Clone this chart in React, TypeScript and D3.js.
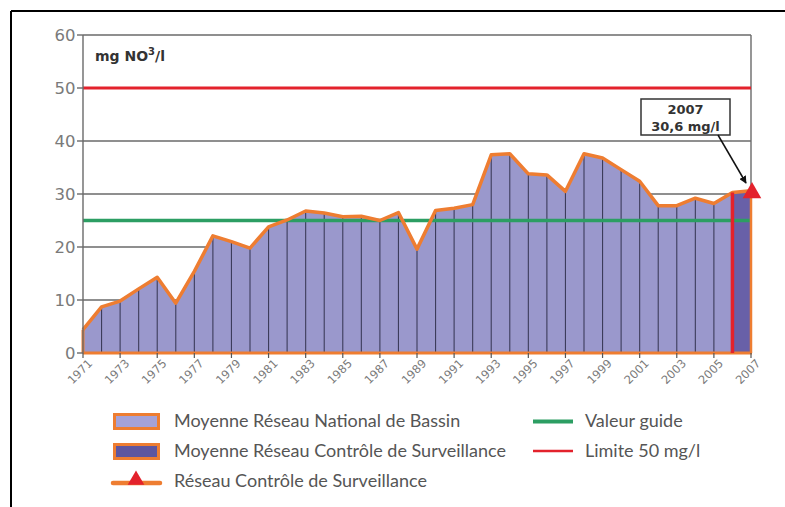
import React from "react";
import * as d3 from "d3";

const years = [1971,1972,1973,1974,1975,1976,1977,1978,1979,1980,1981,1982,1983,1984,1985,1986,1987,1988,1989,1990,1991,1992,1993,1994,1995,1996,1997,1998,1999,2000,2001,2002,2003,2004,2005,2006,2007];
const nationalValues = [4.4,8.7,9.8,12.1,14.3,9.4,15.4,22.1,21.0,19.8,23.8,25.1,26.8,26.4,25.7,25.8,25.0,26.5,19.6,26.9,27.3,28.0,37.4,37.6,33.8,33.6,30.5,37.6,36.8,34.6,32.4,27.8,27.8,29.2,28.2,30.3];
const surveillanceYears = [2006, 2007];
const surveillanceValues = [30.3, 30.6];
const yTicks = [0, 10, 20, 30, 40, 50, 60];
const xTickYears = [1971,1973,1975,1977,1979,1981,1983,1985,1987,1989,1991,1993,1995,1997,1999,2001,2003,2005,2007];
const guideValue = 25;
const limitValue = 50;
const lastYear = 2007;
const lastValue = 30.6;
const legendLeft = [
  "Moyenne Réseau National de Bassin",
  "Moyenne Réseau Contrôle de Surveillance",
  "Réseau Contrôle de Surveillance",
];
const legendRight = ["Valeur guide", "Limite 50 mg/l"];

const W = 785, H = 507;
const ORANGE = "#ee7d31";
const LAV = "#9a98cc";
const DARK = "#6860a8";
const GREEN = "#2c9e63";
const RED = "#e3222c";

export default function App() {
  const x = d3.scaleLinear().domain([1971, 2007]).range([83, 751]);
  const y = d3.scaleLinear().domain([0, 60]).range([353, 35]);

  const nat = years.slice(0, nationalValues.length).map((yr, i) => [yr, nationalValues[i]] as [number, number]);
  const sur = surveillanceYears.map((yr, i) => [yr, surveillanceValues[i]] as [number, number]);

  const area = d3.area<[number, number]>().x(d => x(d[0])).y0(y(0)).y1(d => y(d[1]));
  const line = d3.line<[number, number]>().x(d => x(d[0])).y(d => y(d[1]));

  const allPts = [...nat, sur[1]];
  const valueAt = (yr: number) => allPts.find(p => p[0] === yr)![1];

  const tri = d3.symbol().type(d3.symbolTriangle).size(150)();
  const triSmall = d3.symbol().type(d3.symbolTriangle).size(120)();

  return (
    <svg width={W} height={H} style={{ position: "absolute", left: 0, top: 0, background: "#fff" }}>
      {/* frame */}
      <line x1={11} y1={11} x2={785} y2={11} stroke="#000" strokeWidth={2} />
      <line x1={11} y1={11} x2={11} y2={507} stroke="#000" strokeWidth={2} />

      {/* gridlines */}
      {yTicks.filter(t => t > 0 && t !== limitValue).map(t => (
        <line key={t} x1={x(1971)} x2={x(2007)} y1={y(t)} y2={y(t)} stroke="#6a6a6a" strokeWidth={1.4} />
      ))}
      <line x1={x(2007)} x2={x(2007)} y1={y(60)} y2={y(0)} stroke="#6a6a6a" strokeWidth={1.4} />

      {/* areas */}
      <path d={area(nat)!} fill={LAV} />
      <path d={area(sur)!} fill={DARK} />

      {/* vertical year lines */}
      {years.map(yr => (
        <line key={yr} x1={x(yr)} x2={x(yr)} y1={y(0)} y2={y(valueAt(yr))} stroke="#3c3c5a" strokeWidth={1.1} />
      ))}

      {/* guide & limit */}
      <line x1={x(1971)} x2={x(2007)} y1={y(guideValue)} y2={y(guideValue)} stroke={GREEN} strokeWidth={3.5} />
      <line x1={x(1971)} x2={x(2007)} y1={y(limitValue)} y2={y(limitValue)} stroke={RED} strokeWidth={3} />

      {/* orange outline */}
      <line x1={x(1971)} x2={x(2007) + 1} y1={y(0)} y2={y(0)} stroke={ORANGE} strokeWidth={3} />
      <line x1={x(1971)} x2={x(1971)} y1={y(0)} y2={y(nationalValues[0])} stroke={ORANGE} strokeWidth={3} />
      <line x1={x(2007)} x2={x(2007)} y1={y(0)} y2={y(lastValue)} stroke={ORANGE} strokeWidth={2.5} />
      <path d={line(allPts)!} fill="none" stroke={ORANGE} strokeWidth={3.5} strokeLinejoin="round" />
      <line x1={x(2006)} x2={x(2006)} y1={y(0)} y2={y(surveillanceValues[0])} stroke={RED} strokeWidth={3.5} />

      {/* axes */}
      <line x1={x(1971)} x2={x(1971)} y1={y(60)} y2={y(0)} stroke="#6a6a6a" strokeWidth={1.4} />
      {yTicks.map(t => (
        <g key={t}>
          <line x1={77} x2={x(1971)} y1={y(t)} y2={y(t)} stroke="#6a6a6a" strokeWidth={1.4} />
          <text x={75.5} y={y(t)} dy="0.36em" textAnchor="end" fontFamily="DejaVu Sans, sans-serif" fontSize={16.5} fill="#7a7a7a">{t}</text>
        </g>
      ))}
      {xTickYears.map(yr => (
        <g key={yr}>
          <line x1={x(yr)} x2={x(yr)} y1={y(0)} y2={y(0) + 5} stroke="#555" strokeWidth={1.2} />
          <text transform={`translate(${x(yr) + 4},${y(0) + 5}) rotate(-45)`} textAnchor="end" dy="0.75em" fontFamily="DejaVu Sans, sans-serif" fontSize={11.5} fill="#7a7a7a">{yr}</text>
        </g>
      ))}

      {/* triangle marker */}
      <path d={tri} transform={`translate(${x(lastYear) + 1},${y(lastValue) + 2})`} fill={RED} />

      {/* unit title */}
      <text x={95} y={61} fontFamily="DejaVu Sans, sans-serif" fontWeight="bold" fontSize={14} fill="#333">
        mg NO<tspan dy={-6} fontSize={10}>3</tspan><tspan dy={6}>/l</tspan>
      </text>

      {/* annotation */}
      <rect x={641} y={99} width={89} height={36} fill="#fff" stroke="#333" strokeWidth={1.5} />
      <text x={685.5} y={114} textAnchor="middle" fontFamily="DejaVu Sans, sans-serif" fontWeight="bold" fontSize={13} fill="#333">{lastYear}</text>
      <text x={685.5} y={130.5} textAnchor="middle" fontFamily="DejaVu Sans, sans-serif" fontWeight="bold" fontSize={13} fill="#333">{String(lastValue).replace(".", ",")} mg/l</text>
      <defs>
        <marker id="ah" viewBox="0 0 10 10" refX={9} refY={5} markerWidth={5} markerHeight={5} orient="auto">
          <path d="M0,0 L10,5 L0,10 z" fill="#111" />
        </marker>
      </defs>
      <line x1={718} y1={135} x2={746} y2={183} stroke="#111" strokeWidth={1.5} markerEnd="url(#ah)" />

      {/* legend */}
      <g fontFamily="Lato, sans-serif" fontSize={18} fill="#555">
        <rect x={114.5} y={414.5} width={44} height={14} fill="#a5a2d8" stroke={ORANGE} strokeWidth={3} />
        <text x={174} y={427}>{legendLeft[0]}</text>
        <rect x={114.5} y={444.5} width={44} height={14} fill="#5e56a0" stroke={ORANGE} strokeWidth={3} />
        <text x={174} y={456.5}>{legendLeft[1]}</text>
        <line x1={113} x2={160} y1={483} y2={483} stroke={ORANGE} strokeWidth={4.5} strokeLinecap="round" />
        <path d={triSmall} transform="translate(136,480)" fill={RED} />
        <text x={174} y={486.5}>{legendLeft[2]}</text>

        <line x1={533} x2={573} y1={421.5} y2={421.5} stroke={GREEN} strokeWidth={4} />
        <text x={585} y={427}>{legendRight[0]}</text>
        <line x1={533} x2={573} y1={451} y2={451} stroke={RED} strokeWidth={2.5} />
        <text x={585} y={456.5}>{legendRight[1]}</text>
      </g>
    </svg>
  );
}
